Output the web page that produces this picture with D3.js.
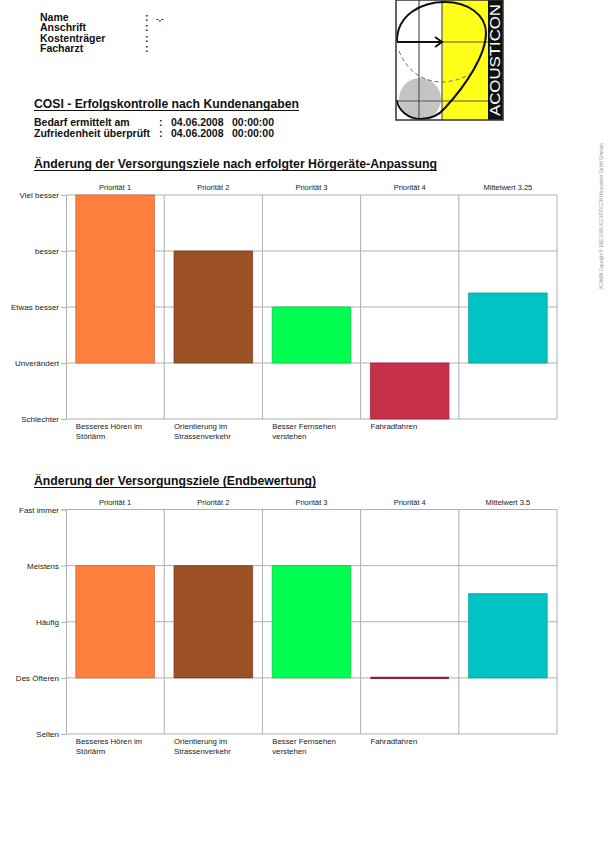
<!DOCTYPE html>
<html>
<head>
<meta charset="utf-8">
<script src="https://cdn.jsdelivr.net/npm/d3@7"></script>
<style>
  html, body { margin: 0; padding: 0; background: #fff; }
  svg { display: block; font-family: "Liberation Sans", Arial, sans-serif; }
</style>
</head>
<body>
<svg id="page" width="609" height="863"></svg>
<script>
// ---------- data ----------
const columns = ["Priorität 1", "Priorität 2", "Priorität 3", "Priorität 4", "Mittelwert"];
const goalLabels = [["Besseres Hören im", "Störlärm"], ["Orientierung im", "Strassenverkehr"], ["Besser Fernsehen", "verstehen"], ["Fahradfahren"], []];
const barColors = ["#FF7F3F", "#9B5123", "#00FF50", "#C63048", "#00C3C3"];

const levels1 = ["Schlechter", "Unverändert", "Etwas besser", "besser", "Viel besser"];
const values1 = [5, 4, 3, 1, 3.25];
const headers1 = ["Priorität 1", "Priorität 2", "Priorität 3", "Priorität 4", "Mittelwert 3.25"];

const levels2 = ["Selten", "Des Öfteren", "Häufig", "Meistens", "Fast immer"];
const values2 = [4, 4, 4, 2, 3.5];
const headers2 = ["Priorität 1", "Priorität 2", "Priorität 3", "Priorität 4", "Mittelwert 3.5"];

const infoLabels = ["Name", "Anschrift", "Kostenträger", "Facharzt"];
const infoValues = ["-,-", "", "", ""];
const dateLabels = ["Bedarf ermittelt am", "Zufriedenheit überprüft"];
const dateValues = ["04.06.2008", "04.06.2008"];
const timeValues = ["00:00:00", "00:00:00"];

const svg = d3.select("#page");

// ---------- header info ----------
const info = svg.append("g").attr("font-weight", "bold").attr("font-size", 10.5).attr("fill", "#111");
infoLabels.forEach((t, i) => {
  const y = 20.5 + i * 10.5;
  info.append("text").attr("x", 40).attr("y", y).text(t);
  info.append("text").attr("x", 145).attr("y", y).text(":");
  if (infoValues[i]) info.append("text").attr("x", 156).attr("y", y).attr("font-size", 8).text(infoValues[i]);
});

function title(y, txt, len) {
  svg.append("text").attr("x", 34).attr("y", y).attr("font-weight", "bold").attr("font-size", 13.5)
    .attr("fill", "#111").attr("textLength", len).attr("lengthAdjust", "spacingAndGlyphs").text(txt);
  svg.append("line").attr("x1", 34).attr("x2", 34 + len).attr("y1", y + 2.5).attr("y2", y + 2.5)
    .attr("stroke", "#111").attr("stroke-width", 1.2);
}
title(108, "COSI - Erfolgskontrolle nach Kundenangaben", 265);

const dates = svg.append("g").attr("font-weight", "bold").attr("font-size", 10.5).attr("fill", "#111");
dateLabels.forEach((t, i) => {
  const y = 126 + i * 11;
  dates.append("text").attr("x", 34).attr("y", y).text(t);
  dates.append("text").attr("x", 159).attr("y", y).text(":");
  dates.append("text").attr("x", 171).attr("y", y).text(dateValues[i]);
  dates.append("text").attr("x", 232).attr("y", y).text(timeValues[i]);
});

// ---------- logo ----------
const logo = svg.append("g").attr("transform", "translate(396,0)");
logo.append("clipPath").attr("id", "logoClip").append("rect").attr("width", 92).attr("height", 120);
logo.append("rect").attr("width", 107).attr("height", 120).attr("fill", "#fff");
logo.append("rect").attr("x", 46).attr("width", 46).attr("height", 120).attr("fill", "#FFFF1A");
logo.append("circle").attr("cx", 24).attr("cy", 99).attr("r", 21).attr("fill", "#C4C4C4").attr("clip-path", "url(#logoClip)");
const lg = logo.append("g").attr("stroke", "#555").attr("stroke-width", 1.2);
[23, 46].forEach(x => lg.append("line").attr("x1", x).attr("x2", x).attr("y1", 0).attr("y2", 120));
[42, 101].forEach(y => lg.append("line").attr("x1", 0).attr("x2", 92).attr("y1", y).attr("y2", y));
logo.append("path").attr("d", "M3,51 Q15,80 44,82 Q60,82 75,74").attr("fill", "none")
  .attr("stroke", "#666").attr("stroke-width", 1).attr("stroke-dasharray", "4,3");
logo.append("path").attr("d", "M1,41 C1,15 25,2 49,2 C72,2 90,15 90,33 C90,55 70,85 49,108 C42,116 35,119 25,119 C12,119 2,110 1,100")
  .attr("fill", "none").attr("stroke", "#111").attr("stroke-width", 2);
logo.append("line").attr("x1", 1).attr("x2", 44).attr("y1", 42).attr("y2", 42).attr("stroke", "#111").attr("stroke-width", 2);
logo.append("path").attr("d", "M39,37 L46,42 L39,47").attr("fill", "none").attr("stroke", "#111").attr("stroke-width", 2);
logo.append("rect").attr("x", 92).attr("width", 15).attr("height", 120).attr("fill", "#111");
logo.append("text").attr("transform", "translate(104,60) rotate(-90)").attr("text-anchor", "middle")
  .attr("font-size", 14).attr("fill", "#fff").attr("textLength", 112).attr("lengthAdjust", "spacingAndGlyphs").text("ACOUSTICON");
logo.append("rect").attr("width", 107).attr("height", 120).attr("fill", "none").attr("stroke", "#333").attr("stroke-width", 1.5);

// copyright
svg.append("text").attr("transform", "translate(603,216) rotate(-90)").attr("text-anchor", "middle")
  .attr("font-size", 4.5).attr("fill", "#999").attr("textLength", 147).attr("lengthAdjust", "spacingAndGlyphs")
  .text("ACAM08 Copyright © 1992-2008 ACOUSTICON Hörsysteme GmbH Germany");

// ---------- charts ----------
function chart(top, bottom, levels, values, headers) {
  const left = 66, right = 557;
  const y = d3.scaleLinear().domain([1, 5]).range([bottom, top]);
  const cols = d3.scaleBand().domain(columns).range([left, right]).padding(0);
  const x = d3.scaleBand().domain(columns).range([left, right]).paddingInner(0.2).paddingOuter(0.1);
  const g = svg.append("g");
  const grid = "#B0B0B0";
  // horizontal grid
  g.append("g").selectAll("line").data(d3.range(1, 6)).join("line")
    .attr("x1", left).attr("x2", right).attr("y1", d => y(d)).attr("y2", d => y(d))
    .attr("stroke", grid).attr("stroke-width", 1);
  // vertical separators
  g.append("g").selectAll("line").data(columns.slice(1)).join("line")
    .attr("x1", d => cols(d)).attr("x2", d => cols(d)).attr("y1", top).attr("y2", bottom)
    .attr("stroke", grid).attr("stroke-width", 1);
  g.append("line").attr("x1", right).attr("x2", right).attr("y1", top).attr("y2", bottom).attr("stroke", grid);
  // bars (as paths so that a zero-height bar still shows its outline)
  const base = 2;
  g.append("g").selectAll("path").data(values).join("path")
    .attr("d", (d, i) => {
      const x0 = x(columns[i]), w = x.bandwidth();
      const y0 = Math.min(y(d), y(base)), h = Math.abs(y(d) - y(base));
      const p = d3.path();
      p.rect(x0, y0, w, h);
      return p.toString();
    })
    .attr("fill", (d, i) => barColors[i])
    .attr("stroke", (d, i) => d3.color(barColors[i]).darker(d === base ? 1 : 0.6))
    .attr("stroke-width", d => d === base ? 2.2 : 0.8);
  // y axis
  const axis = d3.axisLeft(y).tickValues(d3.range(1, 6)).tickFormat(d => levels[d - 1]).tickSize(5).tickPadding(2);
  const ax = g.append("g").attr("transform", `translate(${left},0)`).call(axis);
  ax.select(".domain").attr("stroke", grid);
  ax.selectAll(".tick line").attr("stroke", grid);
  ax.selectAll(".tick text").attr("font-size", 8).attr("fill", "#222").attr("font-family", "Liberation Sans, Arial, sans-serif");
  // headers
  g.append("g").selectAll("text").data(headers).join("text")
    .attr("x", (d, i) => cols(columns[i]) + cols.bandwidth() / 2).attr("y", top - 5)
    .attr("text-anchor", "middle").attr("font-size", 7.5).attr("fill", "#222").text(d => d);
  // goal labels
  goalLabels.forEach((lines, i) => {
    lines.forEach((t, j) => {
      g.append("text").attr("x", x(columns[i])).attr("y", bottom + 10 + j * 9.5)
        .attr("font-size", 7.8).attr("fill", "#222").text(t);
    });
  });
}

title(168, "Änderung der Versorgungsziele nach erfolgter Hörgeräte-Anpassung", 403);
chart(195, 419, levels1, values1, headers1);

title(485, "Änderung der Versorgungsziele (Endbewertung)", 282);
chart(509.5, 734, levels2, values2, headers2);
</script>
</body>
</html>
